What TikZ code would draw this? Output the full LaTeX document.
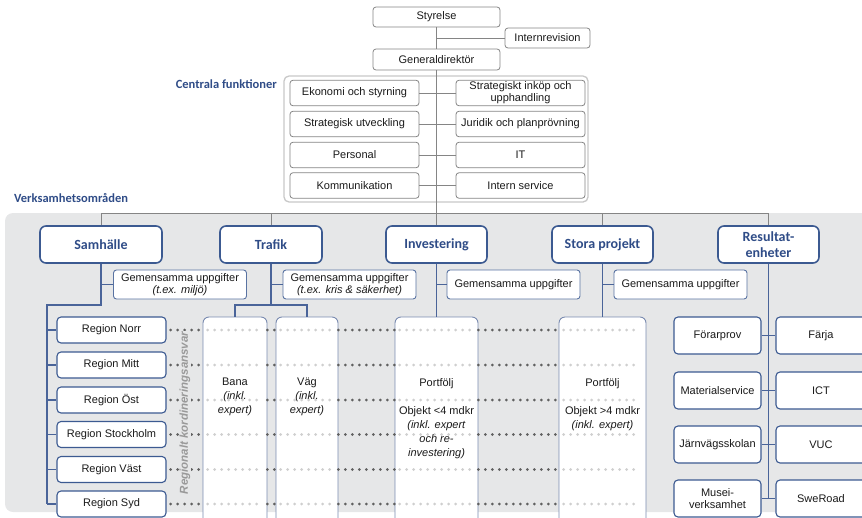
\documentclass[tikz,border=0pt]{standalone}
\usepackage{fontspec}
\setmainfont{Liberation Sans}
\newfontfamily\headfont{Carlito}

\definecolor{hblue}{HTML}{2F4C87}
\definecolor{bblue}{HTML}{3C5A91}
\definecolor{lblue}{HTML}{4A6499}
\definecolor{tallblue}{HTML}{7A8BB0}
\definecolor{gline}{HTML}{858585}
\definecolor{grpline}{HTML}{C8C8C8}
\definecolor{bggray}{HTML}{E6E7E8}
\definecolor{dotdark}{HTML}{606060}
\definecolor{dotlight}{HTML}{CFCFCF}
\definecolor{txt}{HTML}{1A1A1A}

\tikzset{
  plain/.style={font=\fontsize{11}{12}\selectfont, text=txt, align=center, inner sep=0pt},
  topbox/.style={plain, draw=gline, line width=0.8pt, rounded corners=3pt, fill=white},
  cfbox/.style={topbox, minimum width=129pt, minimum height=25.5pt},
  areabox/.style={draw=bblue, line width=1.6pt, rounded corners=6pt, fill=white,
    font=\headfont\bfseries\fontsize{14}{15.5}\selectfont, text=hblue,
    minimum height=37pt, inner sep=0pt, align=center},
  sharedbox/.style={plain, draw=bblue!85, line width=0.9pt, rounded corners=3pt,
    fill=white, minimum width=133pt, minimum height=29pt},
  regbox/.style={plain, draw=bblue, line width=1.1pt, rounded corners=4pt,
    fill=white, minimum width=109pt, minimum height=26pt},
  tallbox/.style={draw=tallblue, line width=0.9pt, rounded corners=6pt,
    fill=white, minimum height=213pt, inner sep=0pt},
  celltext/.style={plain, font=\fontsize{11}{14}\selectfont, anchor=north},
  resbox/.style={plain, draw=bblue, line width=1.1pt, rounded corners=4pt,
    fill=white, minimum height=37pt},
  grouplabel/.style={font=\headfont\bfseries\fontsize{12.5}{14}\selectfont, text=hblue, inner sep=0pt},
  topline/.style={draw=gline, line width=0.8pt},
  lowline/.style={draw=lblue, line width=1.1pt},
  dotdk/.style={draw=dotdark, line width=3pt, line cap=round, dash pattern=on 0pt off 7pt},
  dotlt/.style={draw=dotlight, line width=3pt, line cap=round, dash pattern=on 0pt off 7pt},
}

\begin{document}
\begin{tikzpicture}[x=1pt,y=-1pt]
\useasboundingbox (0,0) rectangle (862,517);
\clip (0,0) rectangle (862,517);

% management
\node[topbox, minimum width=127pt, minimum height=20pt] (styr) at (436.5,17) {Styrelse};
\node[topbox, minimum width=85pt, minimum height=20pt] (irev) at (547.5,38) {Internrevision};
\node[topbox, minimum width=127pt, minimum height=21pt] (gd) at (436.5,59.5) {Generaldirektör};
\draw[topline] (styr.south) -- (gd.north);
\draw[topline] (irev.west) -- (irev.west -| styr.south);

% central functions
\node[draw=grpline, line width=1.3pt, rounded corners=5pt, fill=white,
      minimum width=304pt, minimum height=126pt] (cf) at (436,139) {};
\node[grouplabel, anchor=east] (cflabel) at (277,84) {Centrala funktioner};
\node[cfbox] (eko) at (354.5,93) {Ekonomi och styrning};
\node[cfbox] (ink) at (520.5,93) {Strategiskt inköp och\\upphandling};
\node[cfbox] (utv) at (354.5,124) {Strategisk utveckling};
\node[cfbox] (jur) at (520.5,124) {Juridik och planprövning};
\node[cfbox] (pers) at (354.5,155) {Personal};
\node[cfbox] (it) at (520.5,155) {IT};
\node[cfbox] (kom) at (354.5,185.5) {Kommunikation};
\node[cfbox] (isrv) at (520.5,185.5) {Intern service};
\draw[topline] (eko.east) -- (ink.west);
\draw[topline] (utv.east) -- (jur.west);
\draw[topline] (pers.east) -- (it.west);
\draw[topline] (kom.east) -- (isrv.west);

% business areas
\node[grouplabel, anchor=west] (valabel) at (14,198) {Verksamhetsområden};
\fill[bggray, rounded corners=8pt] (5,213) rectangle (880,512);
\coordinate (bar) at (0,213);

\node[areabox, minimum width=122pt] (samh) at (101,244.5) {Samhälle};
\node[areabox, minimum width=102pt] (traf) at (271,244.5) {Trafik};
\node[areabox, minimum width=101pt] (inv) at (436.5,244.5) {Investering};
\node[areabox, minimum width=101pt] (st) at (602.5,244.5) {Stora projekt};
\node[areabox, minimum width=101pt] (res) at (768.5,244.5) {Resultat-\\enheter};

\draw[topline] (gd.south) -- (inv.north);
\draw[topline] (samh.north) |- (res.north |- bar) -- (res.north);
\draw[topline] (traf.north) -- (traf.north |- bar);
\draw[topline] (st.north) -- (st.north |- bar);

% shared tasks
\node[sharedbox] (s1) at (180,284.5) {Gemensamma uppgifter\\\textit{(t.ex. miljö)}};
\node[sharedbox] (s2) at (349.5,284.5) {Gemensamma uppgifter\\\textit{(t.ex. kris \& säkerhet)}};
\node[sharedbox] (s3) at (513.5,284.5) {Gemensamma uppgifter};
\node[sharedbox] (s4) at (680.5,284.5) {Gemensamma uppgifter};
\draw[lowline] (s1.west) -- (s1.west -| samh.south);
\draw[lowline] (s2.west) -- (s2.west -| traf.south);
\draw[lowline] (s3.west) -- (s3.west -| inv.south);
\draw[lowline] (s4.west) -- (s4.west -| st.south);

% regions
\node[regbox] (norr) at (111.5,330) {Region Norr};
\node[regbox] (mitt) at (111.5,365) {Region Mitt};
\node[regbox] (ost) at (111.5,400) {Region Öst};
\node[regbox] (sthlm) at (111.5,434.5) {Region Stockholm};
\node[regbox] (vast) at (111.5,469.5) {Region Väst};
\node[regbox] (syd) at (111.5,504) {Region Syd};
\coordinate (strunk) at (47,305);
\draw[lowline] (samh.south) |- (strunk) -- (strunk |- syd.west);
\foreach \r in {norr,mitt,ost,sthlm,vast,syd}
  \draw[lowline] (strunk |- \r.west) -- (\r.west);

% columns for traffic, investment and major projects
\node[tallbox, minimum width=64pt] (bana) at (235,423.5) {};
\node[tallbox, minimum width=62pt] (vag) at (307,423.5) {};
\node[tallbox, minimum width=83pt] (pinv) at (436.5,423.5) {};
\node[tallbox, minimum width=87pt] (pst) at (602.5,423.5) {};

\coordinate (tj) at (271,305);
\draw[lowline] (traf.south) -- (tj);
\draw[lowline] (bana.north) |- (tj) -| (vag.north);
\draw[lowline] (inv.south) -- (pinv.north);
\draw[lowline] (st.south) -- (pst.north);

% regional coordination rows
\foreach \r in {norr,mitt,ost,sthlm,vast,syd} {
  \draw[dotdk] ([xshift=4pt]\r.east) -- (\r.east -| bana.west);
  \draw[dotdk] (\r.east -| bana.east) -- (\r.east -| vag.west);
  \draw[dotdk] (\r.east -| vag.east) -- (\r.east -| pinv.west);
  \draw[dotdk] (\r.east -| pinv.east) -- (\r.east -| pst.west);
  \draw[dotlt] ([xshift=5pt]\r.east -| bana.west) -- ([xshift=-4pt]\r.east -| bana.east);
  \draw[dotlt] ([xshift=5pt]\r.east -| vag.west) -- ([xshift=-4pt]\r.east -| vag.east);
  \draw[dotlt] ([xshift=5pt]\r.east -| pinv.west) -- ([xshift=-4pt]\r.east -| pinv.east);
  \draw[dotlt] ([xshift=5pt]\r.east -| pst.west) -- ([xshift=-6pt]\r.east -| pst.east);
}
\node[rotate=90, fill=bggray, inner sep=1pt, text=black!40,
      font=\bfseries\itshape\fontsize{11.5}{13}\selectfont] (rka) at (185,413)
      {Regionalt kordineringsansvar};

\node[celltext] (banat) at (235,378) {Bana\\\textit{(inkl.}\\\textit{expert)}};
\node[celltext] (vagt) at (307,378) {Väg\\\textit{(inkl.}\\\textit{expert)}};
\node[celltext] (pinvt) at (436.5,378) {Portfölj\\[14pt]Objekt <4 mdkr\\\textit{(inkl. expert}\\\textit{och re-}\\\textit{investering)}};
\node[celltext] (pstt) at (602.5,378) {Portfölj\\[14pt]Objekt >4 mdkr\\\textit{(inkl. expert)}};

% result units
\node[resbox, minimum width=87pt] (forar) at (717.5,335.5) {Förarprov};
\node[resbox, minimum width=90pt] (farja) at (821,335.5) {Färja};
\node[resbox, minimum width=87pt] (mat) at (717.5,390.5) {Materialservice};
\node[resbox, minimum width=90pt] (ict) at (821,390.5) {ICT};
\node[resbox, minimum width=87pt] (jvs) at (717.5,444.5) {Järnvägsskolan};
\node[resbox, minimum width=90pt] (vuc) at (821,444.5) {VUC};
\node[resbox, minimum width=87pt] (mus) at (717.5,498.5) {Musei-\\verksamhet};
\node[resbox, minimum width=90pt] (swe) at (821,498.5) {SweRoad};
\draw[lowline] (res.south) -- (res.south |- mus.east);
\draw[lowline] (forar.east) -- (farja.west);
\draw[lowline] (mat.east) -- (ict.west);
\draw[lowline] (jvs.east) -- (vuc.west);
\draw[lowline] (mus.east) -- (swe.west);
\end{tikzpicture}
\end{document}
